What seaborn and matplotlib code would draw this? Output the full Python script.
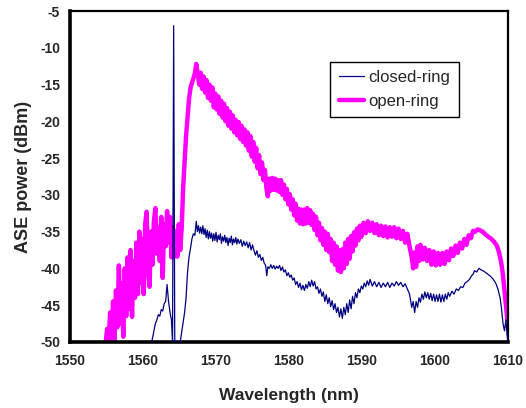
import numpy as np
import pandas as pd
import matplotlib
matplotlib.use("Agg")
import matplotlib.pyplot as plt
import seaborn as sns

# open-ring ASE spectrum
open_wl = [
    1554.9, 1555.1, 1555.3, 1555.5, 1555.7, 1555.9, 1556.1, 1556.3, 1556.5, 1556.7,
    1556.9, 1557.1, 1557.3, 1557.5, 1557.7, 1557.9, 1558.1, 1558.3, 1558.5, 1558.7,
    1558.9, 1559.1, 1559.3, 1559.5, 1559.7, 1559.9, 1560.1, 1560.3, 1560.5, 1560.7,
    1560.9, 1561.1, 1561.3, 1561.5, 1561.7, 1561.9, 1562.1, 1562.3, 1562.5, 1562.7,
    1562.9, 1563.1, 1563.3, 1563.5, 1563.7, 1563.9, 1564.1, 1564.3, 1564.5, 1564.7,
    1564.9, 1565.1, 1565.3, 1565.5, 1565.7, 1565.9, 1566.1, 1566.3, 1566.5, 1566.7,
    1566.9, 1567.1, 1567.3, 1567.5, 1567.7, 1567.9, 1568.1, 1568.3, 1568.5, 1568.7,
    1568.9, 1569.1, 1569.3, 1569.5, 1569.7, 1569.9, 1570.1, 1570.3, 1570.5, 1570.7,
    1570.9, 1571.1, 1571.3, 1571.5, 1571.7, 1571.9, 1572.1, 1572.3, 1572.5, 1572.7,
    1572.9, 1573.1, 1573.3, 1573.5, 1573.7, 1573.9, 1574.1, 1574.3, 1574.5, 1574.7,
    1574.9, 1575.1, 1575.3, 1575.5, 1575.7, 1575.9, 1576.1, 1576.3, 1576.5, 1576.7,
    1576.9, 1577.1, 1577.3, 1577.5, 1577.7, 1577.9, 1578.1, 1578.3, 1578.5, 1578.7,
    1578.9, 1579.1, 1579.3, 1579.5, 1579.7, 1579.9, 1580.1, 1580.3, 1580.5, 1580.7,
    1580.9, 1581.1, 1581.3, 1581.5, 1581.7, 1581.9, 1582.1, 1582.3, 1582.5, 1582.7,
    1582.9, 1583.1, 1583.3, 1583.5, 1583.7, 1583.9, 1584.1, 1584.3, 1584.5, 1584.7,
    1584.9, 1585.1, 1585.3, 1585.5, 1585.7, 1585.9, 1586.1, 1586.3, 1586.5, 1586.7,
    1586.9, 1587.1, 1587.3, 1587.5, 1587.7, 1587.9, 1588.1, 1588.3, 1588.5, 1588.7,
    1588.9, 1589.1, 1589.3, 1589.5, 1589.7, 1589.9, 1590.2, 1590.5, 1590.8, 1591.1,
    1591.4, 1591.7, 1592.0, 1592.3, 1592.6, 1592.9, 1593.2, 1593.5, 1593.8, 1594.1,
    1594.4, 1594.7, 1595.0, 1595.3, 1595.6, 1595.9, 1596.2, 1596.5, 1596.8, 1597.0,
    1597.2, 1597.4, 1597.6, 1597.8, 1598.0, 1598.3, 1598.6, 1598.9, 1599.2, 1599.5,
    1599.8, 1600.1, 1600.4, 1600.7, 1601.0, 1601.3, 1601.6, 1601.9, 1602.2, 1602.5,
    1602.8, 1603.1, 1603.4, 1603.7, 1604.0, 1604.3, 1604.6, 1604.9, 1605.2, 1605.5,
    1605.8, 1606.1, 1606.5, 1606.9, 1607.3, 1607.7, 1608.1, 1608.5, 1608.8, 1609.1,
    1609.3, 1609.5, 1609.7, 1609.9, 1610.0,
]
open_dbm = [
    -50.0, -48.2, -50.0, -46.0, -49.6, -44.5, -49.8, -43.0, -48.0, -39.6,
    -47.5, -42.0, -49.3, -40.0, -46.5, -38.5, -45.5, -37.5, -46.6, -39.0,
    -44.0, -36.5, -43.5, -35.0, -42.0, -36.0, -43.5, -34.0, -32.3, -40.0,
    -42.5, -35.0, -39.5, -33.5, -31.8, -38.0, -34.5, -39.0, -33.0, -41.3,
    -34.0, -37.0, -32.2, -36.5, -33.0, -38.5, -34.5, -38.4, -35.0, -38.4,
    -34.0, -37.5, -34.5, -29.0, -25.5, -22.0, -19.5, -17.0, -15.5, -14.8,
    -14.2, -13.5, -12.2, -13.5, -15.0, -13.4, -15.6, -13.9, -16.1, -14.4,
    -16.8, -15.0, -17.2, -15.4, -18.1, -16.2, -18.4, -16.6, -19.0, -17.2,
    -19.5, -17.6, -20.0, -18.2, -20.6, -18.7, -21.0, -19.2, -21.5, -19.8,
    -21.9, -20.1, -22.4, -20.6, -22.8, -21.1, -23.3, -21.5, -24.0, -22.0,
    -24.8, -22.8, -25.5, -23.6, -26.4, -24.6, -27.2, -25.6, -28.0, -26.6,
    -29.0, -30.2, -27.8, -29.4, -27.7, -29.3, -27.8, -29.4, -28.0, -29.6,
    -28.0, -30.0, -28.6, -30.6, -29.2, -31.3, -29.9, -32.0, -30.6, -32.8,
    -31.2, -33.5, -31.9, -33.9, -32.0, -34.0, -32.0, -33.9, -31.8, -33.8,
    -32.1, -34.1, -32.6, -34.8, -33.0, -35.5, -33.8, -36.2, -34.5, -36.8,
    -35.0, -37.5, -35.3, -37.8, -36.0, -39.0, -36.5, -39.5, -37.0, -40.3,
    -37.5, -40.5, -37.4, -40.0, -36.5, -39.4, -36.0, -38.7, -35.6, -37.7,
    -35.1, -36.9, -34.6, -36.2, -34.2, -35.7, -33.8, -35.2, -33.6, -34.9,
    -33.8, -35.2, -34.0, -35.5, -34.2, -35.6, -34.3, -35.8, -34.4, -35.7,
    -34.4, -35.9, -34.6, -36.0, -34.9, -36.5, -35.3, -37.0, -38.5, -40.0,
    -37.8, -39.8, -37.0, -39.0, -36.8, -38.8, -37.2, -39.0, -37.5, -39.5,
    -37.7, -39.6, -37.9, -39.5, -37.9, -39.4, -37.7, -38.9, -37.3, -38.3,
    -36.9, -37.9, -36.5, -37.3, -36.0, -36.8, -35.5, -35.9, -34.9, -35.0,
    -34.7, -34.8, -35.0, -35.4, -35.7, -36.0, -36.4, -37.0, -38.0, -39.5,
    -41.0, -43.0, -45.0, -47.0, -45.5,
]

# closed-ring ASE spectrum
closed_wl = [
    1561.2, 1561.5, 1561.7, 1561.9, 1562.1, 1562.3, 1562.5, 1562.7, 1562.9, 1563.1,
    1563.3, 1563.5, 1563.7, 1563.9, 1564.05, 1564.2, 1564.35, 1564.8, 1565.1, 1565.4,
    1565.7, 1565.9, 1566.1, 1566.3, 1566.5, 1566.7, 1566.9, 1567.1, 1567.3, 1567.45,
    1567.6, 1567.75, 1567.9, 1568.05, 1568.2, 1568.35, 1568.5, 1568.65, 1568.8, 1568.95,
    1569.1, 1569.25, 1569.4, 1569.55, 1569.7, 1569.85, 1570.0, 1570.15, 1570.3, 1570.45,
    1570.6, 1570.75, 1570.9, 1571.05, 1571.2, 1571.35, 1571.5, 1571.65, 1571.8, 1571.95,
    1572.1, 1572.25, 1572.4, 1572.55, 1572.7, 1572.85, 1573.0, 1573.2, 1573.4, 1573.6,
    1573.8, 1574.0, 1574.2, 1574.4, 1574.6, 1574.8, 1575.0, 1575.2, 1575.4, 1575.6,
    1575.8, 1576.0, 1576.2, 1576.4, 1576.6, 1576.8, 1576.95, 1577.1, 1577.3, 1577.5,
    1577.7, 1577.9, 1578.1, 1578.3, 1578.5, 1578.7, 1578.9, 1579.1, 1579.3, 1579.5,
    1579.7, 1579.9, 1580.1, 1580.3, 1580.5, 1580.7, 1580.9, 1581.1, 1581.3, 1581.5,
    1581.7, 1581.9, 1582.1, 1582.3, 1582.5, 1582.7, 1582.9, 1583.1, 1583.3, 1583.5,
    1583.7, 1583.9, 1584.1, 1584.3, 1584.5, 1584.7, 1584.9, 1585.1, 1585.3, 1585.5,
    1585.7, 1585.9, 1586.1, 1586.3, 1586.5, 1586.7, 1586.9, 1587.1, 1587.3, 1587.5,
    1587.7, 1587.9, 1588.1, 1588.3, 1588.5, 1588.7, 1588.9, 1589.1, 1589.3, 1589.5,
    1589.7, 1589.9, 1590.1, 1590.3, 1590.5, 1590.7, 1590.9, 1591.1, 1591.4, 1591.7,
    1592.0, 1592.3, 1592.6, 1592.9, 1593.2, 1593.5, 1593.8, 1594.1, 1594.4, 1594.7,
    1595.0, 1595.3, 1595.6, 1595.9, 1596.2, 1596.5, 1596.8, 1597.0, 1597.2, 1597.4,
    1597.6, 1597.8, 1598.0, 1598.2, 1598.4, 1598.6, 1598.8, 1599.0, 1599.2, 1599.4,
    1599.6, 1599.8, 1600.0, 1600.2, 1600.4, 1600.6, 1600.8, 1601.0, 1601.2, 1601.4,
    1601.6, 1601.8, 1602.0, 1602.3, 1602.6, 1602.9, 1603.2, 1603.5, 1603.8, 1604.1,
    1604.4, 1604.7, 1605.0, 1605.2, 1605.4, 1605.7, 1606.0, 1606.3, 1606.7, 1607.1,
    1607.5, 1607.9, 1608.3, 1608.6, 1608.9, 1609.1, 1609.3, 1609.5, 1609.7, 1609.85,
    1610.0,
]
closed_dbm = [
    -50.0, -48.5, -47.5, -47.0, -46.3, -46.5, -45.6, -45.8, -44.8, -44.5,
    -42.2, -44.5, -46.0, -47.0, -50.0, -7.0, -50.0, -50.0, -50.0, -48.0,
    -46.0, -44.0, -40.5, -38.5, -37.3, -36.0, -35.3, -35.5, -33.6, -35.0,
    -34.2, -35.2, -34.4, -35.3, -34.2, -35.4, -34.6, -35.8, -34.8, -36.0,
    -35.0, -35.9, -35.2, -36.3, -35.3, -36.2, -35.1, -36.4, -35.5, -36.1,
    -35.3, -36.6, -35.7, -36.3, -35.5, -36.5, -35.8, -36.9, -35.9, -36.5,
    -35.6, -36.8, -36.0, -36.5, -35.8, -36.7, -36.0, -36.6, -36.1, -37.0,
    -36.3, -36.9, -36.4, -37.2, -36.5, -37.5, -36.8, -37.6, -38.2, -37.6,
    -38.5, -38.1, -38.9, -38.5, -39.3, -39.6, -41.0, -39.8, -40.0, -39.5,
    -40.0, -39.6, -40.1, -39.7, -40.0, -39.6, -40.3, -39.8, -40.5, -40.2,
    -41.0, -40.6, -41.2, -40.9, -41.6, -41.3, -42.2, -41.8, -42.6, -42.0,
    -42.9, -42.3, -43.0, -42.2, -42.7, -41.8, -42.5, -41.6, -42.4, -41.8,
    -42.8, -42.5, -43.4, -42.8, -43.8, -43.2, -44.5, -43.6, -44.8, -44.0,
    -45.2, -44.4, -45.6, -44.8, -46.0, -45.3, -46.6, -45.5, -46.8, -45.3,
    -46.3, -44.8, -46.0, -44.3, -45.5, -43.8, -44.8, -43.3, -44.0, -42.8,
    -43.3, -42.4, -42.8, -42.0, -42.5, -41.7, -42.3, -41.5, -42.4, -41.8,
    -42.5, -41.9, -42.6, -42.0, -42.5, -41.9, -42.6, -42.0, -42.4, -41.8,
    -42.3, -41.9, -42.5, -42.1, -42.8, -43.5, -45.3, -44.5, -46.0, -44.5,
    -45.3, -44.0, -44.6, -43.5, -44.2, -43.2, -44.0, -43.3, -44.2, -43.4,
    -44.4, -43.5, -44.5, -43.6, -44.5, -43.5, -44.6, -43.6, -44.5, -43.5,
    -44.2, -43.3, -43.8, -43.1, -43.5, -42.8, -43.0, -42.5, -42.6, -42.0,
    -41.8, -41.5, -41.0, -40.8, -40.3, -40.5, -40.0, -40.2, -40.4, -40.7,
    -41.0, -41.4, -42.0, -42.8, -44.0, -45.5, -47.5, -48.5, -47.0, -49.0,
    -50.0,
]

x_ticks = [1550, 1560, 1570, 1580, 1590, 1600, 1610]
y_ticks = [-50, -45, -40, -35, -30, -25, -20, -15, -10, -5]

df_closed = pd.DataFrame({"wl": closed_wl, "dbm": closed_dbm})
df_open = pd.DataFrame({"wl": open_wl, "dbm": open_dbm})

sns.set_style("white")
plt.rcParams["font.family"] = ["Liberation Sans", "DejaVu Sans"]

fig = plt.figure(figsize=(5.26, 4.08), dpi=100)
ax = fig.add_axes([0.133, 0.162, 0.833, 0.811])

sns.lineplot(data=df_open, x="wl", y="dbm", sort=False, estimator=None,
             color="#FF00FF", linewidth=3.2, ax=ax, label="open-ring", zorder=2)
sns.lineplot(data=df_closed, x="wl", y="dbm", sort=False, estimator=None,
             color="#000080", linewidth=0.9, ax=ax, label="closed-ring", zorder=3)

ax.set_xlim(1550, 1610)
ax.set_ylim(-50, -5)
ax.set_xticks(x_ticks)
ax.set_yticks(y_ticks)
ax.set_xticklabels([str(t) for t in x_ticks], fontsize=10, fontweight="bold")
ax.set_yticklabels([str(t) for t in y_ticks], fontsize=10, fontweight="bold")
ax.tick_params(axis="both", direction="out", length=3, width=1.5, color="black", pad=4)
ax.tick_params(axis="x", pad=6)

ax.set_xlabel("Wavelength (nm)", fontsize=12.5, fontweight="bold", labelpad=14)
ax.set_ylabel("ASE power (dBm)", fontsize=13, fontweight="bold", labelpad=6)

for side in ["left", "bottom"]:
    ax.spines[side].set_linewidth(2.6)
    ax.spines[side].set_color("black")
for side in ["top", "right"]:
    ax.spines[side].set_linewidth(1.6)
    ax.spines[side].set_color("black")

handles, labels = ax.get_legend_handles_labels()
order = [labels.index("closed-ring"), labels.index("open-ring")]
leg = ax.legend([handles[i] for i in order], [labels[i] for i in order],
                loc="upper left", bbox_to_anchor=(0.594, 0.846), fontsize=12,
                frameon=True, fancybox=False, framealpha=1, edgecolor="black",
                handlelength=1.5, handletextpad=0.3, borderpad=0.5,
                labelspacing=0.5, borderaxespad=0)
leg.get_frame().set_linewidth(1.0)

fig.savefig("out.png", dpi=100)
